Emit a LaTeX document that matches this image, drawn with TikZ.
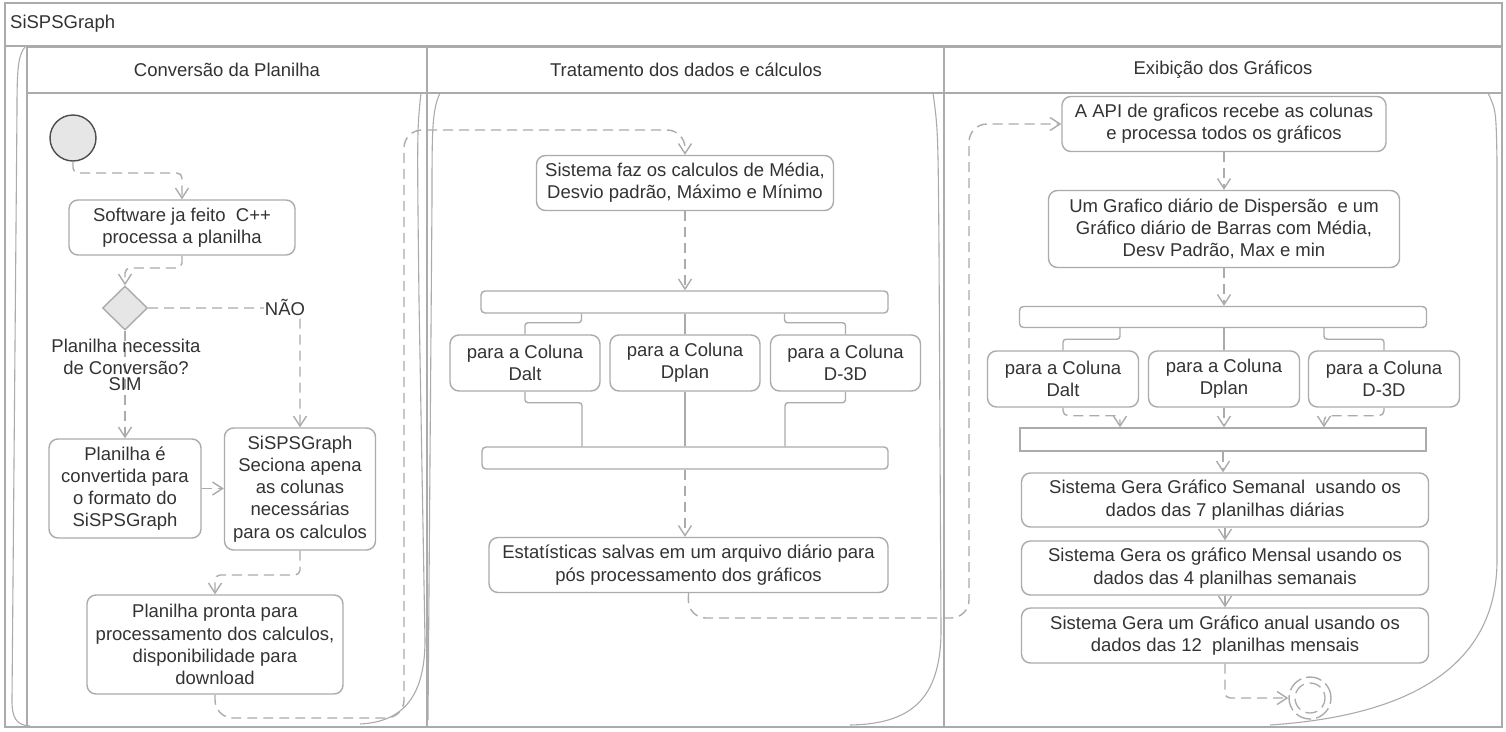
\documentclass[tikz,border=0pt]{standalone}
\usepackage{fontspec}
\setmainfont{Liberation Sans}
\usetikzlibrary{arrows.meta,shapes.geometric}
\definecolor{lc}{HTML}{ABABAB}
\definecolor{tc}{HTML}{333333}
\definecolor{fc}{HTML}{E6E6E6}
\definecolor{dc}{HTML}{4D4D4D}
\newcommand\myfs{\fontsize{18.5}{22.2}\selectfont}
\begin{document}
\begin{tikzpicture}[x=1pt,y=-1pt,
  frame/.style={draw=lc, line width=1.4pt},
  sk/.style={draw=lc, line width=1.1pt},
  box/.style={draw=lc, line width=1.4pt, rounded corners=9pt, fill=white, align=center, inner sep=0pt, text=tc, font=\myfs},
  bar/.style={draw=lc, line width=1.4pt, fill=white, inner sep=0pt, rounded corners=4pt},
  flow/.style={draw=lc, line width=1.4pt, dash pattern=on 10pt off 6pt, rounded corners=5pt, -{Straight Barb[length=10pt,width=13pt]}},
  flowbig/.style={flow, rounded corners=18pt},
  solidc/.style={draw=lc, line width=1.4pt, rounded corners=3pt},
  lbl/.style={text=tc, font=\myfs, align=center, inner sep=1pt}]
\useasboundingbox (0,0) rectangle (1506,731);
\fill[white] (0,0) rectangle (1506,731);

% pool and lanes
\draw[frame] (5,3) rectangle (1502,46);
\node[lbl, anchor=west] (pooltitle) at (9,24) {SiSPSGraph};
\draw[frame] (5,46) -- (5,727) -- (1502,727) -- (1502,46);
\draw[frame] (27,47) rectangle (427,93);
\draw[frame] (427,47) rectangle (944,93);
\draw[frame] (944,47) rectangle (1502,93);
\draw[frame] (27,93) -- (27,727);
\draw[frame] (427,93) -- (427,727);
\draw[frame] (944,93) -- (944,727);
\node[lbl] (h1) at (227,70) {Conversão da Planilha};
\node[lbl] (h2) at (686,70) {Tratamento dos dados e cálculos};
\node[lbl] (h3) at (1223,70) {Exibição dos Gráficos};

% sketch strokes
\draw[sk] (25,47) .. controls (18,55) and (17,70) .. (17,110) -- (12,700) .. controls (12,718) and (16,725) .. (30,726);
\draw[sk] (421,93) .. controls (417,130) .. (419,300) -- (425,640) .. controls (425,700) and (400,722) .. (360,724);
\draw[sk] (440,93) .. controls (432,110) and (432,130) .. (432,200) -- (428,720);
\draw[sk] (933,93) .. controls (938,130) .. (939,250) -- (941,630) .. controls (941,700) and (910,724) .. (850,725);
\draw[sk] (1488,93) .. controls (1496,110) .. (1497,160) -- (1497,560) .. controls (1497,660) and (1420,715) .. (1270,725);

% lane 1
\node[circle, draw=dc, fill=fc, line width=1.4pt, minimum size=46pt, inner sep=0pt] (start) at (73,138) {};
\node[box, minimum width=226pt, minimum height=55pt] (n1) at (182,227.5) {Software ja feito\ \ C++\\processa a planilha};
\node[diamond, aspect=1, draw=lc, fill=fc, line width=1.4pt, minimum width=45pt, minimum height=44pt, inner sep=0pt] (dec) at (125,308) {};
\node[box, minimum width=151pt, minimum height=122pt] (n2) at (300,489) {SiSPSGraph\\Seciona apena\\as colunas\\necessárias\\para os calculos};
\node[box, minimum width=152pt, minimum height=99pt] (n3) at (125,488.5) {Planilha é\\convertida para\\o formato do\\SiSPSGraph};
\node[box, minimum width=256pt, minimum height=99pt] (n4) at (215,644.5) {Planilha pronta para\\processamento dos calculos,\\disponibilidade para\\download};

% lane 2
\node[box, minimum width=297pt, minimum height=55pt] (n5) at (685,183) {Sistema faz os calculos de Média,\\Desvio padrão, Máximo e Mínimo};
\node[bar, minimum width=407pt, minimum height=22pt] (fork1) at (684.5,302) {};
\node[box, minimum width=150pt, minimum height=56pt] (c1) at (525,363) {para a Coluna\\Dalt};
\node[box, minimum width=150pt, minimum height=56pt] (c2) at (685,363) {para a Coluna\\Dplan};
\node[box, minimum width=150pt, minimum height=56pt] (c3) at (845.5,363) {para a Coluna\\D-3D};
\node[bar, minimum width=406pt, minimum height=22pt] (join1) at (685,458) {};
\node[box, minimum width=399pt, minimum height=55pt] (n6) at (688.5,565) {Estatísticas salvas em um arquivo diário para\\pós processamento dos gráficos};

% lane 3
\node[box, minimum width=324pt, minimum height=55pt] (n7) at (1224,124) {A API de graficos recebe as colunas\\e processa todos os gráficos};
\node[box, minimum width=351pt, minimum height=77pt] (n8) at (1224,229) {Um Grafico diário de Dispersão\ \ e um\\Gráfico diário de Barras com Média,\\Desv Padrão, Max e min};
\node[bar, minimum width=407pt, minimum height=21pt] (fork2) at (1223,317) {};
\node[box, minimum width=151pt, minimum height=56pt] (d1) at (1063,379) {para a Coluna\\Dalt};
\node[box, minimum width=151pt, minimum height=56pt] (d2) at (1224,379) {para a Coluna\\Dplan};
\node[box, minimum width=151pt, minimum height=56pt] (d3) at (1384,379) {para a Coluna\\D-3D};
\node[draw=lc, line width=1.4pt, fill=white, inner sep=0pt, minimum width=406pt, minimum height=23pt] (join2) at (1223,439.5) {};
\node[box, minimum width=407pt, minimum height=54pt] (n9) at (1225,500) {Sistema Gera Gráfico Semanal\ \ usando os\\dados das 7 planilhas diárias};
\node[box, minimum width=407pt, minimum height=54pt] (n10) at (1225,568) {Sistema Gera os gráfico Mensal usando os\\dados das 4 planilhas semanais};
\node[box, minimum width=407pt, minimum height=55pt] (n11) at (1225,635.5) {Sistema Gera um Gráfico anual usando os\\dados das 12\ \ planilhas mensais};
\node[circle, draw=lc, line width=1.4pt, dash pattern=on 16pt off 5pt, minimum size=42pt, inner sep=0pt] (end) at (1310,698) {};
\draw[lc, line width=1.3pt, dash pattern=on 12pt off 6pt, dash phase=6pt] (end.center) circle[radius=15pt];

% connectors lane 1
\draw[flow] (start.south) -- (73,173) -- (182,173) -- (n1.north);
\draw[flow] (n1.south) -- (182,268) -- (125,268) -- (dec.north);
\draw[flow] (dec.east) -| (n2.north);
\node[lbl, fill=white] (no) at (285,307) {NÃO};
\draw[flow] (dec.south) -- (n3.north);
\node[lbl] (declabel) at (126,357) {Planilha necessita\\de Conversão?};
\node[lbl] (yes) at (125,384) {SIM};
\draw[flow] (n3.east) -- (n2.west |- n3.east);
\draw[flow] (n2.south) -- (300,575) -- (215,575) -- (n4.north);
\draw[flowbig] (n4.south) -- (215,718) -- (404,718) -- (404,130) -- (685,130) -- (n5.north);

% connectors lane 2
\draw[flow] (n5.south) -- (n5.south |- fork1.north);
\draw[solidc] ([xshift=-103pt]fork1.south) -- ++(0,9) -| (c1.north);
\draw[solidc] (fork1.south -| c2.north) -- (c2.north);
\draw[solidc] ([xshift=100pt]fork1.south) -- ++(0,9) -| (c3.north);
\draw[solidc] (c1.south) -- ++(0,11) -| ([xshift=-103pt]join1.north);
\draw[solidc] (c2.south) -- (c2.south |- join1.north);
\draw[solidc] (c3.south) -- ++(0,11) -| ([xshift=100pt]join1.north);
\draw[flow] (join1.south) -- (join1.south |- n6.north);
\draw[flowbig] (n6.south) -- (688,618) -- (969,618) -- (969,124) -- (n7.west);

% connectors lane 3
\draw[flow] (n7.south) -- (n8.north);
\draw[flow] (n8.south) -- (n8.south |- fork2.north);
\draw[solidc] ([xshift=-103pt]fork2.south) -- ++(0,11) -| (d1.north);
\draw[solidc] (fork2.south -| d2.north) -- (d2.north);
\draw[solidc] ([xshift=101pt]fork2.south) -- ++(0,11) -| (d3.north);
\draw[flow] (d1.south) -- ++(0,8) -| ([xshift=-103pt]join2.north);
\draw[flow] (d2.south) -- (d2.south |- join2.north);
\draw[flow] (d3.south) -- ++(0,8) -| ([xshift=101pt]join2.north);
\draw[flow] (join2.south) -- (join2.south |- n9.north);
\draw[flow] (n9.south) -- (n10.north);
\draw[flow] (n10.south) -- (n11.north);
\draw[flow] (n11.south) |- (end.west);
\end{tikzpicture}
\end{document}
